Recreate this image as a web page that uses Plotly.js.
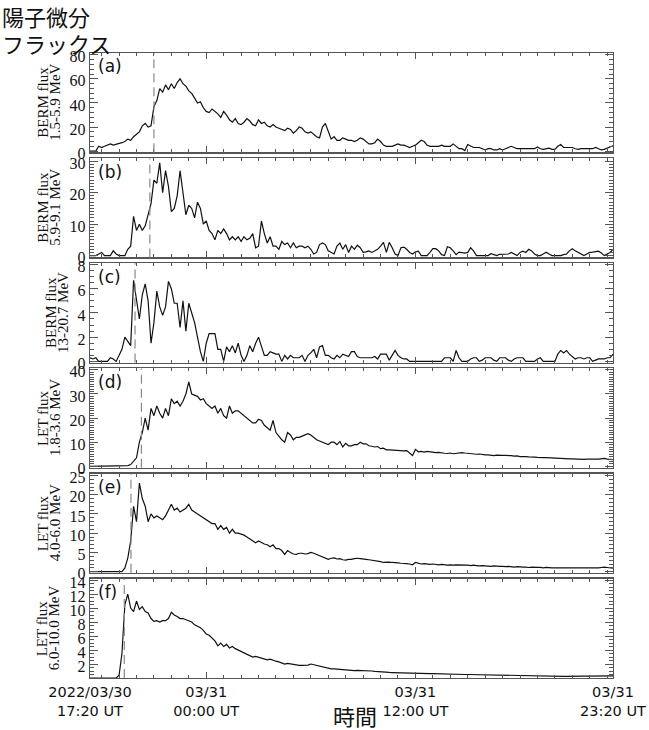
<!DOCTYPE html>
<html>
<head>
<meta charset="utf-8">
<script src="https://cdn.plot.ly/plotly-3.0.1.min.js"></script>
<style>
  html, body { margin: 0; padding: 0; background: #fff; }
  #chart { width: 649px; height: 730px; }
</style>
</head>
<body>
<div id="chart"></div>
<script>
// 10-minute samples from 2022/03/30 17:20 UT to 2022/03/31 23:20 UT (181 points)
const startUTC = Date.UTC(2022, 2, 30, 17, 20);
const stepMs = 10 * 60 * 1000;

// (a) BERM 1.5-5.9 MeV
const bermLow = [
  0, 0, 0, 4, 3, 4, 5, 6, 5, 5.5,
  6, 7, 8, 10, 9, 12, 14, 16, 21, 23,
  20, 21, 37, 42, 52, 49, 55, 51, 56, 52,
  57, 60, 56, 54, 50, 48, 44, 40, 41, 36,
  33, 32, 35, 33, 31, 28, 33, 30, 26, 24,
  27, 23, 22, 24, 27, 25, 22, 21, 26, 23,
  24, 21, 20, 22, 20, 19, 18, 17, 19, 18,
  15, 17, 20, 19, 16, 15, 16, 14, 12, 11,
  20, 23, 16, 10, 12, 9, 9, 11, 10, 9,
  9, 8, 9, 11, 10, 8, 6, 6, 7, 10,
  8, 5, 4, 4, 4, 5, 6, 5, 5, 4,
  3, 4, 5, 7, 9, 8, 5, 4, 4, 4,
  4, 5, 4, 4, 4, 6, 4, 2, 2, 0.5,
  5.5, 4, 3, 3, 3, 2, 1, 2, 2, 1,
  1, 2, 1, 2, 3, 4, 3, 2, 2, 2,
  2, 2.5, 2, 2, 3.5, 2, 1.5, 2, 2.5, 1.5,
  1.5, 4, 5.5, 3, 3, 2.5, 3, 2, 1.5, 2,
  2, 1.5, 2, 2, 3, 2, 1, 1.5, 2.5, 3, 4.5
];

// (b) BERM 5.9-9.1 MeV
const bermMid = [
  0, 0, 0, 0.5, 1, 0, 0, 0, 1.5, 0.5,
  0, 0, 0, 2, 3, 12.5, 8, 10, 8, 9.5,
  13, 16.5, 24, 23, 29.5, 20, 27, 22, 14, 15,
  19, 27, 20, 13, 16, 15, 12, 17, 15, 10,
  11, 8, 7, 5, 8, 7, 8.5, 7, 5, 6,
  5, 6, 4.5, 6, 5, 5.5, 7, 2.5, 3, 11,
  7, 4, 6, 3, 3, 2, 4.5, 3.5, 4, 2.5,
  4, 2.5, 3, 3, 2.5, 3, 2, 0.5, 1, 3.5,
  4, 3.5, 1.5, 1, 0.5, 3, 4, 2, 3.5, 1,
  3, 2, 3.3, 2.5, 1, 1.2, 1.5, 1, 1.5, 2,
  3, 4.2, 1, 4.2, 2.5, 0.5, 0, 2.5, 2.7, 2,
  1, 0.5, 1.2, 1.4, 0, 0, 0, 1, 2.2, 2.2,
  1.5, 0.3, 0, 2.8, 2.5, 1.5, 0.3, 1.1, 1, 0.8,
  1, 2.5, 1.5, 0, 0, 0, 0, 0, 0.6, 0.2,
  0, 0.4, 0.4, 0.4, 0.5, 1, 0.4, 0, 1, 1.4,
  1, 2, 1.5, 0.5, 0, 0, 0.5, 1.1, 0.5, 0,
  0, 0, 0, 0.3, 0.5, 1.5, 2.2, 1.5, 1, 0.5,
  0, 0.5, 1, 1.1, 1.2, 1.4, 0.8, 0, 0.5, 1, 2
];

// (c) BERM 13-20.7 MeV
const bermHigh = [
  0.3, 0.2, 0.3, 0, 0, 0, 0, 0.3, 0.2, 0,
  0.5, 1, 2, 1.7, 1.3, 6.7, 5, 3.5, 5.5, 6.4,
  5, 1.5, 3.2, 5.8, 4.5, 3.8, 4.5, 6.6, 6, 4.8,
  4.8, 2.8, 5, 2.5, 4.8, 4, 3.2, 2, 0.8, 0,
  1.5, 2.3, 2.3, 2.3, 1, 1, 0, 1.2, 0.8, 1.3,
  0.7, 1.5, 0.5, 0, 0.5, 1.3, 0.8, 1.5, 2, 1.2,
  0.5, 0.5, 0.8, 0.7, 0.6, 0.6, 0, 0.5, 0.2, 0.5,
  0.3, 0.3, 0.3, 0.5, 0, 0.5, 0.7, 1, 0.3, 1.2,
  1.3, 0.5, 0.5, 0.3, 0.2, 0.5, 0.3, 0.6, 0.5, 0.4,
  0.8, 0.8, 0.4, 0.3, 0.3, 0.3, 0.3, 0.3, 0.4, 0.2,
  0.6, 0.6, 0.6, 0.1, 0.5, 0.9, 0.5, 0.3, 0.2, 0.2,
  0, 0, 0, 0, 0, 0, 0, 0, 0, 0,
  0, 0, 0.3, 0.3, 0.3, 0, 0.9, 0.3, 0, 0,
  0, 0.2, 0.3, 0.3, 0, 0.1, 0.3, 0.3, 0.3, 0.1,
  0, 0.3, 0.3, 0.3, 0.1, 0, 0.2, 0.3, 0.3, 0.3,
  0, 0, 0, 0, 0.2, 0.3, 0, 0, 0, 0,
  0, 0.6, 0.9, 0.7, 0.9, 0.6, 0.4, 0.2, 0.3, 0.3,
  0.2, 0.3, 0.3, 0, 0.1, 0.2, 0.2, 0.2, 0.3, 0.3, 0.6
];

// (d) LET 1.8-3.6 MeV
const letLow = [
  0, 0, 0, 0, 0, 0, 0, 0, 0, 0,
  0, 0, 0, 0.3, 0.7, 2, 3.5, 10, 14, 20,
  15, 24, 21, 25, 22, 20, 24, 21, 28, 26,
  27, 25, 27, 30, 35, 30, 29.5, 29, 27.5, 28,
  26, 25, 24, 25, 22, 24, 21, 20, 25, 22,
  23, 23, 22, 21, 20, 19, 18, 18, 19.5, 19,
  17, 16, 15, 19, 14, 12.5, 11, 10, 14, 13,
  11, 12, 12, 12.5, 13, 13.5, 13, 12, 11, 10.5,
  10, 9.5, 9, 10, 10, 9, 10.3, 8, 9.5, 8.5,
  8.5, 9, 9, 10, 9.3, 9.3, 8.5, 8.3, 8, 8.2,
  7.3, 7.5, 6.8, 6.8, 6.7, 6.6, 6.4, 6.3, 6.4, 6.5,
  5.5, 4.5, 7, 6, 6.2, 5.9, 6.2, 6, 5.8, 5.7,
  5.8, 5.5, 5.4, 5.3, 5.5, 5.2, 5.4, 5.6, 5.7, 5.5,
  5.3, 5.3, 5.1, 5, 5.1, 4.8, 4.7, 4.7, 4.5, 4.4,
  4.6, 4.7, 4.5, 4.5, 4.6, 4.4, 4.2, 4.3, 4, 4.1,
  4, 3.9, 4, 3.8, 3.7, 3.8, 3.6, 3.6, 3.5, 3.5,
  3.3, 3.4, 3.3, 3.2, 3.2, 3.1, 3.1, 3, 3.1, 2.9,
  2.9, 3, 2.9, 2.9, 3, 3, 3.1, 3.3, 3, 2.9, 2.8
];

// (e) LET 4.0-6.0 MeV
const letMid = [
  0, 0, 0, 0, 0, 0, 0, 0, 0, 0,
  0, 0, 1, 3.5, 8, 17, 13, 23, 19, 17,
  13, 15, 14, 14.5, 14, 13.5, 14.5, 16, 17.5, 16,
  16.5, 15.5, 16, 16.5, 17.5, 16, 15.5, 15, 14.5, 14,
  13.5, 13, 12.5, 12.5, 11, 12, 11, 11.5, 10, 11,
  10, 10, 9.8, 9.5, 9, 8.5, 8, 7.5, 8, 7.5,
  7.2, 7, 6.5, 7, 6, 6, 5.5, 4.5, 5.5, 5,
  4.6, 4.5, 4.8, 4.8, 4.6, 4.7, 5, 4.8, 4.5, 4.1,
  4, 3.6, 3.2, 3.5, 3.6, 3.3, 3.4, 3.1, 3, 3.2,
  3.2, 3.4, 3.5, 3.4, 3.2, 3.2, 3.1, 3, 2.9, 2.8,
  2.6, 2.4, 2.5, 2.5, 2.4, 2.4, 2.3, 2.2, 2.2, 2.1,
  2, 1.8, 2.4, 2.1, 2, 2.1, 2, 1.9, 2, 1.9,
  1.8, 1.9, 1.7, 1.7, 1.8, 1.7, 1.8, 1.8, 1.7, 1.7,
  1.7, 1.6, 1.7, 1.6, 1.5, 1.6, 1.5, 1.5, 1.4, 1.5,
  1.4, 1.4, 1.4, 1.3, 1.4, 1.3, 1.2, 1.3, 1.2, 1.2,
  1.2, 1.1, 1.2, 1.1, 1.1, 1.1, 1, 1.1, 1, 1,
  1, 1, 1, 0.9, 1, 0.9, 0.9, 0.9, 0.9, 0.9,
  1, 1, 1, 1, 1, 1, 1.1, 1.2, 1.1, 1, 0.9
];

// (f) LET 6.0-10.0 MeV
const letHigh = [
  0, 0, 0, 0, 0, 0, 0, 0, 0, 0,
  0.4, 3.5, 10.5, 12, 10, 9.5, 11, 9.8, 10.2, 9.5,
  9.3, 8.5, 8.1, 8.2, 8, 8.2, 8.2, 8.5, 9.4, 9,
  8.8, 8.5, 8.5, 8.3, 8.2, 8, 7.6, 7.4, 7.2, 6.8,
  6.3, 6.1, 5.7, 5.3, 4.6, 5, 4.5, 4.8, 4.3, 4.5,
  4.2, 4, 3.8, 3.6, 3.3, 3.1, 3, 3.1, 3, 2.9,
  2.7, 2.6, 2.7, 2.5, 2.4, 2.3, 2.1, 2, 2.1, 2,
  1.9, 1.85, 1.8, 1.8, 1.8, 1.85, 2, 1.9, 1.7, 1.6,
  1.5, 1.4, 1.3, 1.3, 1.3, 1.25, 1.2, 1.15, 1.1, 1.1,
  1.1, 1.05, 1.1, 1.1, 1.05, 1, 1.05, 1, 0.95, 0.9,
  0.9, 0.85, 0.8, 0.8, 0.78, 0.76, 0.76, 0.76, 0.74, 0.72,
  0.7, 0.68, 0.62, 0.65, 0.66, 0.65, 0.62, 0.62, 0.62, 0.6,
  0.58, 0.58, 0.58, 0.56, 0.55, 0.54, 0.54, 0.52, 0.52, 0.5,
  0.5, 0.49, 0.48, 0.47, 0.46, 0.44, 0.42, 0.4, 0.4, 0.4,
  0.4, 0.38, 0.38, 0.37, 0.36, 0.35, 0.34, 0.33, 0.32, 0.31,
  0.3, 0.3, 0.29, 0.29, 0.28, 0.28, 0.27, 0.27, 0.26, 0.26,
  0.25, 0.25, 0.25, 0.24, 0.24, 0.23, 0.22, 0.22, 0.2, 0.25,
  0.28, 0.28, 0.28, 0.3, 0.28, 0.28, 0.28, 0.29, 0.28, 0.28, 0.29
];

const series = [bermLow, bermMid, bermHigh, letLow, letMid, letHigh];
const panelLabels = ['(a)', '(b)', '(c)', '(d)', '(e)', '(f)'];
const yTitles = [
  ['BERM flux', '1.5-5.9 MeV'],
  ['BERM flux', '5.9-9.1 MeV'],
  ['BERM flux', '13-20.7 MeV'],
  ['LET flux', '1.8-3.6 MeV'],
  ['LET flux', '4.0-6.0 MeV'],
  ['LET flux', '6.0-10.0 MeV']
];
// onset markers (dashed lines)
const onsetTimes = [
  '2022-03-30 21:00', '2022-03-30 20:46', '2022-03-30 19:55',
  '2022-03-30 20:17', '2022-03-30 19:41', '2022-03-30 19:18'
];
const yTickVals = [
  [0, 20, 40, 60, 80],
  [0, 10, 20, 30],
  [0, 2, 4, 6, 8],
  [0, 10, 20, 30, 40],
  [0, 5, 10, 15, 20, 25],
  [2, 4, 6, 8, 10, 12, 14]
];
const yRanges = [[-1, 81.5], [-0.6, 31], [-0.1, 8.1], [-0.6, 40.6], [-0.3, 25.5], [0, 14.2]];
const yMinorStep = [4, 1, 0.5, 1, 1, 0.5];
const xTickVals = ['2022-03-30 17:20', '2022-03-31 00:00', '2022-03-31 12:00', '2022-03-31 23:20'];
const xTickText = ['2022/03/30<br>17:20 UT', '03/31<br>00:00 UT', '03/31<br>12:00 UT', '03/31<br>23:20 UT'];

const times = bermLow.map((_, i) =>
  new Date(startUTC + i * stepMs).toISOString().slice(0, 16).replace('T', ' '));

// ---- layout geometry (pixels) ----
const W = 649, H = 730;
const M = { l: 90, r: 36, t: 53, b: 52 };
const plotW = W - M.l - M.r;
const plotH = H - M.t - M.b;
const gap = 5.8;
const panelH = (plotH - gap * 5) / 6;
const titleX = [43, 43, 51, 43, 43, 42];

const frame = '#555';
const layout = {
  width: W, height: H,
  margin: M,
  paper_bgcolor: '#fff',
  plot_bgcolor: '#fff',
  showlegend: false,
  shapes: [],
  annotations: []
};

const traces = series.map((ys, k) => {
  const n = k + 1;
  const top = k * (panelH + gap);
  const domain = [1 - (top + panelH) / plotH, 1 - top / plotH];
  const last = k === series.length - 1;

  layout['xaxis' + n] = {
    type: 'date',
    domain: [0, 1],
    anchor: 'y' + n,
    range: [xTickVals[0], xTickVals[3]],
    matches: n > 1 ? 'x' : undefined,
    tickmode: 'array',
    tickvals: xTickVals,
    ticktext: xTickText,
    showticklabels: last,
    ticks: 'inside', ticklen: 6, tickcolor: frame, tickwidth: 1,
    minor: { ticks: 'inside', dtick: 3600000, tick0: '2022-03-30 18:00', ticklen: 3, tickcolor: frame, showgrid: false },
    showline: true, linecolor: frame, linewidth: 1.3, mirror: 'ticks',
    showgrid: false, zeroline: false,
    tickfont: { family: 'DejaVu Sans', size: 14.5, color: '#111' }
  };
  layout['yaxis' + n] = {
    domain: domain,
    anchor: 'x' + n,
    range: yRanges[k],
    tickmode: 'array',
    tickvals: yTickVals[k],
    ticks: 'inside', ticklen: 8, tickcolor: frame, tickwidth: 1,
    ticklabelshift: 2,
    minor: { ticks: 'inside', dtick: yMinorStep[k], ticklen: 4, tickcolor: frame, showgrid: false },
    showline: true, linecolor: frame, linewidth: 1.3, mirror: 'ticks',
    showgrid: false, zeroline: false,
    tickfont: { family: 'Liberation Serif', size: 16, color: '#111' }
  };

  layout.shapes.push({
    type: 'line', xref: 'x' + n, yref: 'y' + n + ' domain',
    x0: onsetTimes[k], x1: onsetTimes[k], y0: 0, y1: 1,
    line: { color: '#888', width: 1.2, dash: '9px,5px' }
  });

  layout.annotations.push({
    text: panelLabels[k], xref: 'x' + n + ' domain', yref: 'y' + n + ' domain',
    x: 0.012, y: 0.985, xanchor: 'left', yanchor: 'top', showarrow: false,
    font: { family: 'DejaVu Sans', size: 17, color: '#111' }
  });
  yTitles[k].forEach((line, j) => {
    layout.annotations.push({
      text: line, textangle: -90,
      xref: 'paper', yref: 'y' + n + ' domain',
      x: (titleX[k] + j * 12 - M.l) / plotW, y: 0.5,
      xanchor: 'center', yanchor: 'middle', showarrow: false,
      font: { family: 'Liberation Serif', size: 15, color: '#111' }
    });
  });

  return {
    type: 'scatter', mode: 'lines',
    x: times, y: ys,
    xaxis: 'x' + n, yaxis: 'y' + n,
    line: { color: '#111', width: 1.2 },
    hoverinfo: 'skip'
  };
});

const jp = { family: 'Noto Sans CJK JP', size: 22, color: '#111' };
layout.annotations.push(
  { text: '陽子微分', xref: 'paper', yref: 'paper', x: -M.l / plotW, y: (plotH + M.t - 16) / plotH,
    xanchor: 'left', yanchor: 'middle', showarrow: false, font: jp },
  { text: 'フラックス', xref: 'paper', yref: 'paper', x: -M.l / plotW, y: (plotH + M.t - 43) / plotH,
    xanchor: 'left', yanchor: 'middle', showarrow: false, font: jp },
  { text: '時間', xref: 'paper', yref: 'paper', x: (355 - M.l) / plotW, y: (plotH + M.t - 715) / plotH,
    xanchor: 'center', yanchor: 'middle', showarrow: false, font: { ...jp, size: 22 } }
);

Plotly.newPlot('chart', traces, layout, { displayModeBar: false, staticPlot: true });
</script>
</body>
</html>
